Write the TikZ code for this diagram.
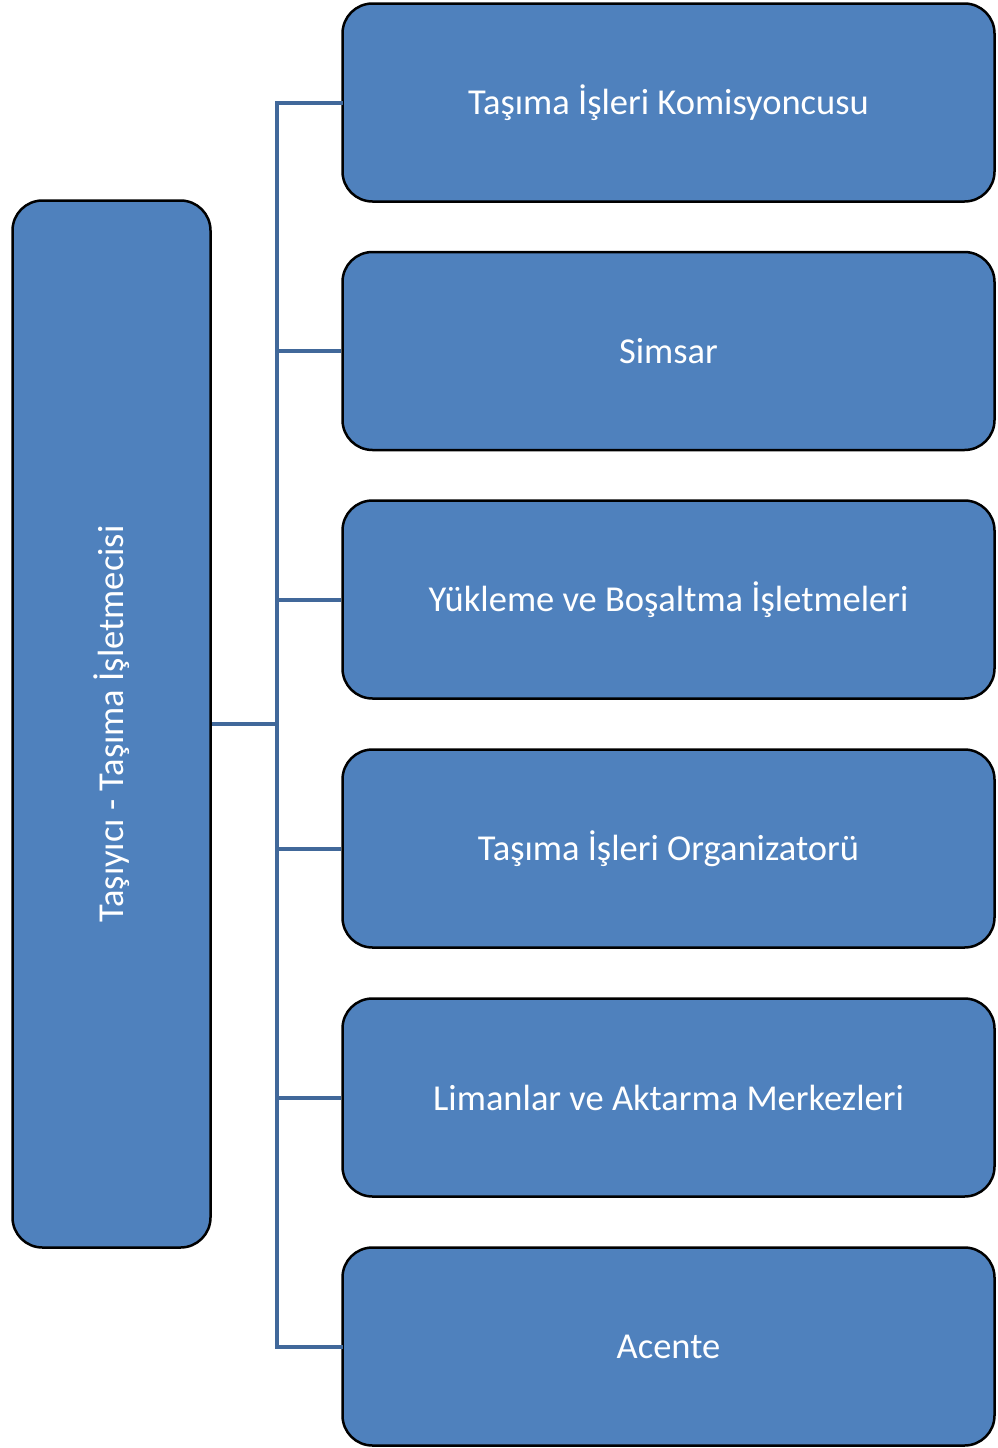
\documentclass[tikz,border=0pt]{standalone}
\usepackage{fontspec}
\setmainfont{Carlito}
\definecolor{boxblue}{HTML}{4F81BD}
\definecolor{linkblue}{HTML}{41689A}
\begin{document}
\begin{tikzpicture}[x=1pt,y=-1pt,
  unit/.style={draw=black,line width=2.5pt,fill=boxblue,rounded corners=30pt,
    minimum width=652pt,minimum height=198pt,text=white,
    font=\fontsize{36.5}{42}\selectfont,inner sep=0pt},
  root/.style={draw=black,line width=2.5pt,fill=boxblue,rounded corners=30pt,
    minimum width=198pt,minimum height=1047pt,text=white,inner sep=0pt},
  link/.style={draw=linkblue,line width=4pt}]
\useasboundingbox (0,0) rectangle (998,1448);
\node[root] (root) at (111.5,724) {};
\node[text=white,rotate=90,font=\fontsize{36.5}{42}\selectfont] (rootlabel) at (112,724) {Taşıyıcı - Taşıma İşletmecisi};
\node[unit] (u1) at (668.5,102.5) {Taşıma İşleri Komisyoncusu};
\node[unit] (u2) at (668.5,351) {Simsar};
\node[unit] (u3) at (668.5,599.5) {Yükleme ve Boşaltma İşletmeleri};
\node[unit] (u4) at (668.5,848.5) {Taşıma İşleri Organizatorü};
\node[unit] (u5) at (668.5,1097.5) {Limanlar ve Aktarma Merkezleri};
\node[unit] (u6) at (668.5,1346.5) {Acente};
\coordinate (trunk) at (277,724);
\begin{scope}[on background layer/.try]
\draw[link] (root.east) -- (trunk);
\draw[link,line cap=rect] (u1.west) -| (trunk) |- (u6.west);
\foreach \n in {u2,u3,u4,u5}
  \draw[link] (u1.west -| trunk) |- (\n.west);
\end{scope}
\end{tikzpicture}
\end{document}
